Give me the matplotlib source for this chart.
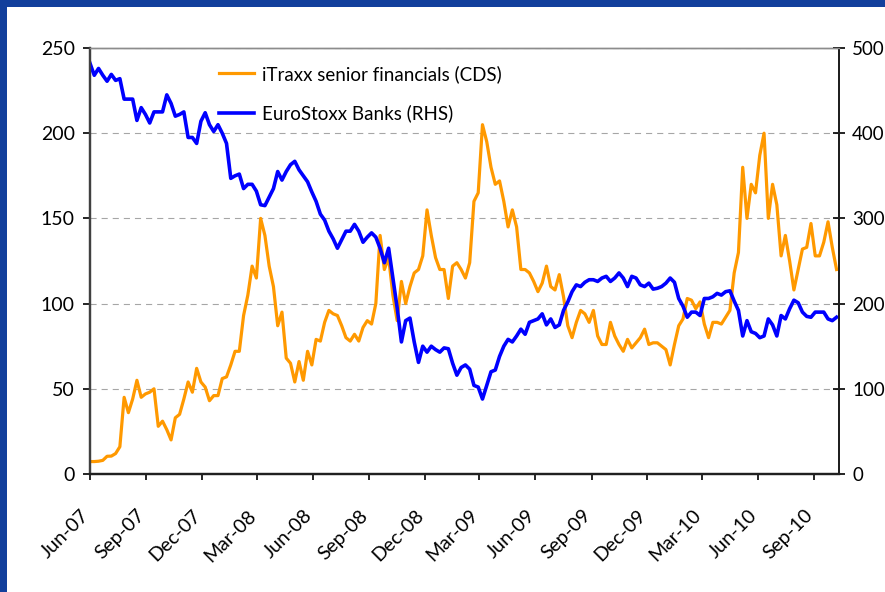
import matplotlib
matplotlib.use("Agg")
import matplotlib.pyplot as plt
import matplotlib.dates as mdates
import matplotlib.transforms as mtrans
from matplotlib.patches import Rectangle
import pandas as pd

plt.rcParams["font.family"] = ["Lato", "DejaVu Sans"]

# weekly readings, starting 1 Jun 2007
start = "2007-06-01"
itraxx = [
    7.3, 7.3, 7.5, 8, 10.4, 10.5, 12, 16, 45, 36,
    44, 55, 45, 47, 48, 50, 28, 31, 26, 20,
    33, 35, 44, 54, 48, 62, 54, 51, 43, 46,
    46, 56, 57, 64, 72, 72, 93, 105, 122, 115,
    150, 140, 122, 110, 87, 95, 68, 65, 54, 66,
    55, 72, 64, 79, 78, 89, 96, 94, 93, 87,
    80, 78, 82, 78, 86, 90, 88, 100, 140, 120,
    127, 105, 90, 113, 100, 110, 118, 120, 128, 155,
    140, 127, 120, 120, 103, 122, 124, 120, 115, 124,
    160, 165, 205, 195, 180, 170, 172, 160, 145, 155,
    145, 120, 120, 118, 113, 107, 112, 122, 110, 108,
    117, 104, 87, 80, 89, 96, 94, 89, 96, 81,
    76, 76, 89, 81, 76, 72, 79, 74, 77, 80,
    85, 76, 77, 77, 75, 73, 64, 76, 87, 91,
    103, 102, 97, 101, 88, 80, 89, 89, 88, 92,
    96, 118, 130, 180, 150, 170, 165, 187, 200, 150,
    170, 158, 128, 140, 125, 108, 120, 132, 133, 147,
    128, 128, 136, 148, 133, 120,
]
banks = [
    482, 468, 476, 468, 461, 469, 462, 464, 440, 440,
    440, 415, 430, 422, 412, 425, 425, 425, 445, 435,
    420, 422, 425, 395, 395, 388, 414, 424, 410, 402,
    410, 400, 388, 347, 350, 352, 335, 340, 340, 332,
    316, 315, 325, 335, 355, 345, 355, 363, 367, 357,
    350, 343, 331, 320, 305, 298, 285, 276, 265, 275,
    285, 285, 293, 285, 272, 278, 283, 278, 265, 248,
    265, 230, 195, 155, 180, 183, 155, 131, 150, 143,
    150, 146, 143, 148, 147, 130, 116, 125, 128, 123,
    104, 102, 88, 104, 120, 122, 138, 150, 158, 155,
    162, 170, 164, 178, 180, 182, 188, 175, 182, 172,
    175, 192, 202, 214, 222, 220, 225, 228, 228, 226,
    230, 232, 226, 230, 236, 230, 220, 232, 230, 222,
    220, 224, 217, 218, 220, 224, 230, 225, 206, 197,
    184, 190, 190, 186, 206, 206, 208, 212, 210, 214,
    215, 203, 192, 162, 180, 167, 165, 160, 162, 182,
    175, 162, 186, 182, 194, 204, 201, 190, 185, 184,
    190, 190, 190, 182, 180, 184,
]
dates = pd.date_range(start, periods=len(itraxx), freq="7D")
tick_dates = pd.date_range("2007-06-01", "2010-09-01", freq="3MS")
left_ticks = [0, 50, 100, 150, 200, 250]
right_ticks = [0, 100, 200, 300, 400, 500]

ORANGE, BLUE, FRAME = "#FF9900", "#0000FF", "#123f9c"
FS = 14

fig = plt.figure(figsize=(8.85, 5.92), dpi=100)
fig.patch.set_facecolor(FRAME)
fig.add_artist(Rectangle((7 / 885, 0), 1, (592 - 7) / 592, transform=fig.transFigure,
                         facecolor="white", edgecolor="none", zorder=-1))

ax = fig.add_axes([90 / 885, 118 / 592, 749 / 885, 426 / 592])
ax2 = ax.twinx()
l1, = ax.plot(dates, itraxx, color=ORANGE, lw=2.3, label="iTraxx senior financials (CDS)")
l2, = ax2.plot(dates, banks, color=BLUE, lw=2.6, label="EuroStoxx Banks (RHS)")

ax.set_xlim(pd.Timestamp("2007-06-01"), pd.Timestamp("2010-10-12"))
ax.set_ylim(0, 250); ax2.set_ylim(0, 500)
ax.set_yticks(left_ticks); ax2.set_yticks(right_ticks)
ax.set_xticks(tick_dates)
ax.xaxis.set_major_formatter(mdates.DateFormatter("%b-%y"))

for a in (ax, ax2):
    a.set_facecolor("none")
    a.spines["top"].set_color("#8c8c8c"); a.spines["top"].set_linewidth(1.0)
    a.spines["left"].set_color("#404040"); a.spines["left"].set_linewidth(1.6)
    a.spines["bottom"].set_color("#202020"); a.spines["bottom"].set_linewidth(1.6)
    a.spines["right"].set_color("#202020"); a.spines["right"].set_linewidth(1.4)

ax.yaxis.grid(True, color="#a6a6a6", ls=(0, (5.5, 4.5)), lw=0.8)
ax.set_axisbelow(True)
ax.tick_params(axis="y", direction="out", length=5, width=1.2, pad=6, labelsize=FS, colors="black")
ax.tick_params(axis="x", direction="out", length=4.5, width=1.2, pad=19, labelsize=FS)
ax2.tick_params(axis="y", direction="inout", length=9, width=1.2, pad=5, labelsize=13.5)

offset = mtrans.ScaledTranslation(-7 / 72, 0, fig.dpi_scale_trans)
for lab in ax.get_xticklabels():
    lab.set_rotation(45)
    lab.set_ha("right")
    lab.set_va("top")
    lab.set_rotation_mode("anchor")
    lab.set_transform(lab.get_transform() + offset)

fig.legend(handles=[l1, l2], loc="upper left", bbox_to_anchor=(219 / 885, 1 - 65 / 592),
           frameon=False, fontsize=13.5, handlelength=1.85, handletextpad=0.45,
           labelspacing=1.15, borderpad=0, borderaxespad=0)

fig.savefig("out.png", dpi=100, facecolor=fig.get_facecolor())
